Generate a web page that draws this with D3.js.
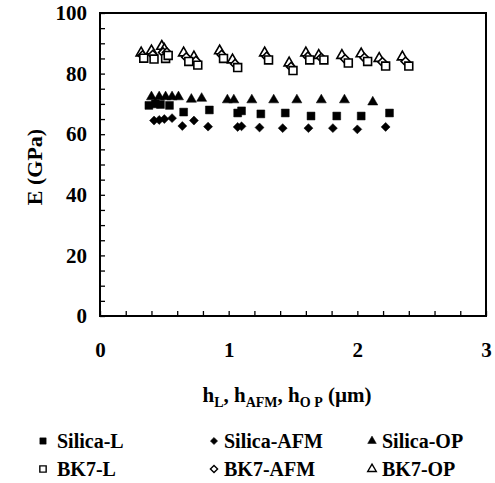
<!DOCTYPE html>
<html>
<head>
<meta charset="utf-8">
<script src="https://cdn.jsdelivr.net/npm/d3@7"></script>
<style>
body { margin: 0; background: #fff; }
text { font-family: "Liberation Serif", "Times New Roman", serif; font-weight: bold; fill: #000; }
</style>
</head>
<body>
<svg id="chart" width="495" height="483"></svg>
<script>
// values
var silicaL_h = [0.38, 0.43, 0.47, 0.54, 0.65, 0.85, 1.07, 1.10, 1.25, 1.44, 1.64, 1.84, 2.03, 2.25]
var silicaL_E = [69.5, 70, 69.8, 69.5, 67.3, 68, 67, 67.7, 66.7, 67, 66, 66, 66, 67]

var silicaAFM_h = [0.42, 0.46, 0.50, 0.56, 0.64, 0.73, 0.84, 1.07, 1.10, 1.24, 1.42, 1.62, 1.81, 2.00, 2.22]
var silicaAFM_E = [64.5, 64.7, 65, 65.3, 62.7, 64.5, 62.5, 62.4, 62.6, 62.2, 62, 62, 62, 61.6, 62.4]

var silicaOP_h = [0.40, 0.46, 0.51, 0.56, 0.61, 0.71, 0.79, 0.99, 1.04, 1.18, 1.35, 1.53, 1.72, 1.90, 2.12]
var silicaOP_E = [72.3, 72.3, 72.3, 72.3, 72.3, 71.5, 71.8, 71.3, 71.3, 71.3, 71.3, 71.3, 71.3, 71.3, 70.6]

var bk7L_h = [0.34, 0.42, 0.51, 0.53, 0.69, 0.76, 0.96, 1.07, 1.31, 1.50, 1.63, 1.74, 1.93, 2.08, 2.22, 2.40]
var bk7L_E = [85.1, 84.8, 85, 86, 84, 82.8, 85, 82, 84.5, 81, 84.5, 84.5, 83.5, 84, 82.5, 82.5]

var bk7AFM_h = [0.33, 0.41, 0.49, 0.52, 0.67, 0.745, 0.945, 1.05, 1.295, 1.485, 1.615, 1.72, 1.905, 2.055, 2.195, 2.375]
var bk7AFM_E = [86, 86.2, 87, 87, 85.4, 84.2, 86.2, 83.2, 85.6, 82.2, 85.6, 85.2, 84.8, 85.2, 83.8, 84]

var bk7OP_h = [0.32, 0.40, 0.48, 0.50, 0.65, 0.73, 0.93, 1.03, 1.28, 1.47, 1.60, 1.70, 1.88, 2.03, 2.17, 2.35]
var bk7OP_E = [86.8, 87.5, 89, 88, 86.8, 85.5, 87.5, 84.5, 86.8, 83.5, 86.8, 86, 86, 86.5, 85, 85.5]

var xTicks = [0, 1, 2, 3]
var yTicks = [0, 20, 40, 60, 80, 100]
var legendLabels = ["Silica-L", "Silica-AFM", "Silica-OP", "BK7-L", "BK7-AFM", "BK7-OP"]

var svg = d3.select("#chart")
var x = d3.scaleLinear().domain([0, 3]).range([100, 486])
var y = d3.scaleLinear().domain([0, 100]).range([316, 13])

// inward ticks every 0.2 / every 5
svg.append("g")
  .attr("transform", "translate(0,316)")
  .call(d3.axisBottom(x).tickValues(d3.range(0, 3.001, 0.2)).tickSize(-5).tickFormat(""))
svg.append("g")
  .attr("transform", "translate(100,0)")
  .call(d3.axisLeft(y).tickValues(d3.range(0, 100.1, 5)).tickSize(-5).tickFormat(""))
svg.selectAll(".domain").remove()
svg.selectAll(".tick line").attr("stroke", "#000").attr("stroke-width", 1.3)

// tick labels
var xl = svg.append("g")
  .attr("transform", "translate(0,316)")
  .call(d3.axisBottom(x).tickValues(xTicks).tickSize(0).tickPadding(26).tickFormat(d3.format("d")))
var yl = svg.append("g")
  .attr("transform", "translate(100,0)")
  .call(d3.axisLeft(y).tickValues(yTicks).tickSize(0).tickPadding(13).tickFormat(d3.format("d")))
xl.select(".domain").remove()
yl.select(".domain").remove()
svg.selectAll(".tick text")
  .attr("font-family", "Liberation Serif").attr("font-weight", "bold").attr("font-size", 21)

// frame
svg.append("rect")
  .attr("x", 100).attr("y", 13).attr("width", 386).attr("height", 303)
  .attr("fill", "none").attr("stroke", "#000").attr("stroke-width", 2)

// symbols
var sq = d3.symbol().type(d3.symbolSquare).size(62)
var dm = d3.symbol().type(d3.symbolSquare).size(40)
var tri = d3.symbol().type(d3.symbolTriangle).size(44)

function drawSeries(hs, Es, path, rot, filled) {
  var pts = hs.map(function (h, i) { return [h, Es[i]] })
  svg.append("g").selectAll("path")
    .data(pts)
    .enter().append("path")
    .attr("d", path)
    .attr("transform", function (d) { return "translate(" + x(d[0]) + "," + y(d[1]) + ") rotate(" + rot + ")" })
    .attr("fill", filled ? "#000" : "#fff")
    .attr("stroke", "#000")
    .attr("stroke-width", filled ? 0.5 : 1.6)
}

drawSeries(bk7OP_h, bk7OP_E, tri, 0, false)
drawSeries(bk7AFM_h, bk7AFM_E, dm, 45, false)
drawSeries(bk7L_h, bk7L_E, sq, 0, false)
drawSeries(silicaOP_h, silicaOP_E, tri, 0, true)
drawSeries(silicaL_h, silicaL_E, sq, 0, true)
drawSeries(silicaAFM_h, silicaAFM_E, dm, 45, true)

// axis titles
svg.append("text")
  .attr("transform", "translate(42,167) rotate(-90)")
  .attr("text-anchor", "middle")
  .attr("font-size", 22)
  .text("E (GPa)")

var xt = svg.append("text")
  .attr("x", 287).attr("y", 402)
  .attr("text-anchor", "middle")
  .attr("font-size", 21)
xt.append("tspan").text("h")
xt.append("tspan").attr("font-size", 14).attr("dy", 5).text("L")
xt.append("tspan").attr("dy", -5).text(", h")
xt.append("tspan").attr("font-size", 14).attr("dy", 5).text("AFM")
xt.append("tspan").attr("dy", -5).text(", h")
xt.append("tspan").attr("font-size", 14).attr("dy", 5).text("O P")
xt.append("tspan").attr("dy", -5).text(" (\u00b5m)")

// legend
var legX = [43, 214, 372]
var legY = [441, 469]
var legRot = [0, 45, 0]
var legendSq = d3.symbol().type(d3.symbolSquare).size(40)
var legendDm = d3.symbol().type(d3.symbolSquare).size(26)
var legendTri = d3.symbol().type(d3.symbolTriangle).size(32)
var legPaths = [legendSq, legendDm, legendTri]

var leg = svg.append("g").selectAll("g")
  .data(legendLabels)
  .enter().append("g")
  .attr("transform", function (d, i) { return "translate(" + legX[i % 3] + "," + legY[Math.floor(i / 3)] + ")" })
leg.append("path")
  .attr("d", function (d, i) { return legPaths[i % 3]() })
  .attr("transform", function (d, i) { return "rotate(" + legRot[i % 3] + ")" })
  .attr("fill", function (d, i) { return i < 3 ? "#000" : "#fff" })
  .attr("stroke", "#000")
  .attr("stroke-width", function (d, i) { return i < 3 ? 0.5 : 1.4 })
leg.append("text")
  .attr("x", function (d, i) { return i % 3 == 0 ? 14 : 10 })
  .attr("y", 7)
  .attr("font-size", 20)
  .text(function (d) { return d })
</script>
</body>
</html>
